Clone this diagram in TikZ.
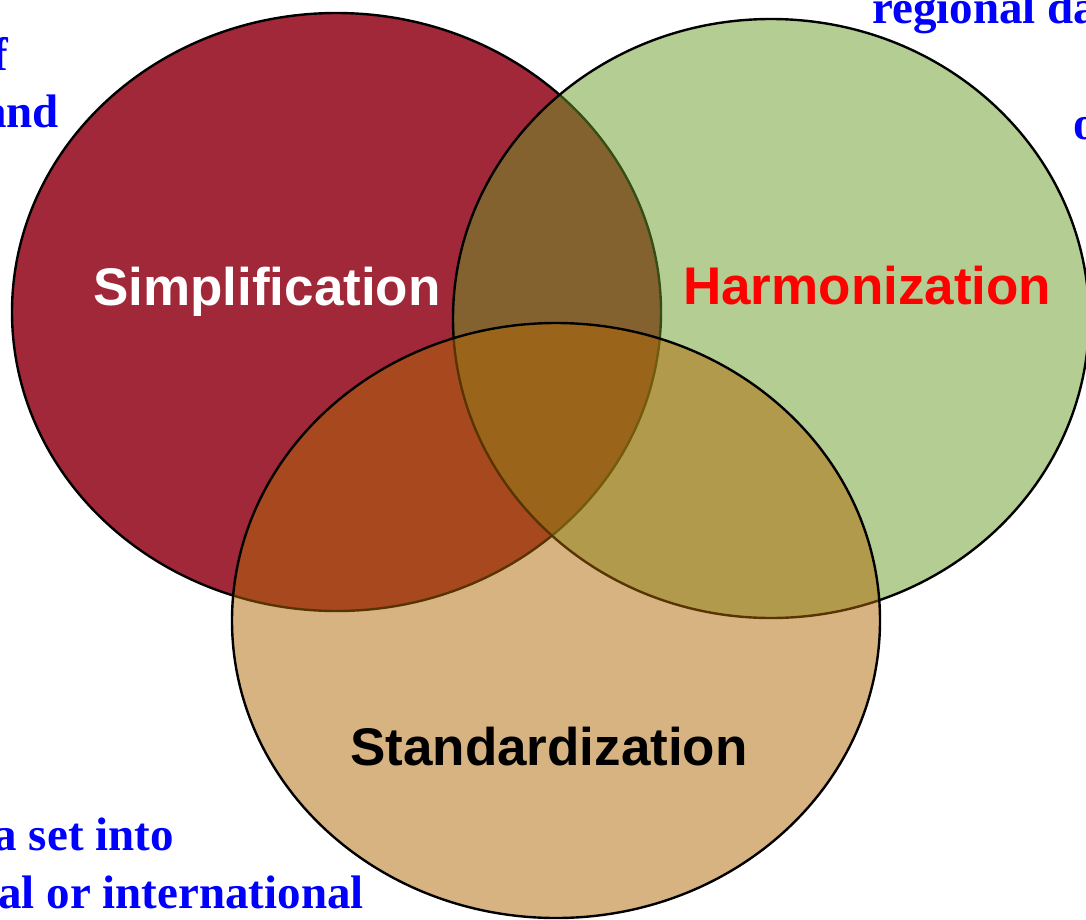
\documentclass[tikz,border=0pt]{standalone}
\usepackage{fontspec}
\setmainfont{Liberation Serif}
\newfontfamily\arialfont{Liberation Sans}
\definecolor{simpred}{RGB}{160,40,56}
\definecolor{harmgreen}{RGB}{105,157,41}
\definecolor{standtan}{RGB}{177,105,5}
\definecolor{noteblue}{RGB}{0,0,255}
\begin{document}
\begin{tikzpicture}[x=1pt,y=-1pt,
  setshape/.style={draw=black,line width=2.4pt},
  biglabel/.style={font=\arialfont\bfseries\fontsize{53}{60}\selectfont,inner sep=0pt,anchor=base west},
  note/.style={font=\bfseries\fontsize{47}{56}\selectfont,text=noteblue,inner sep=0pt}]
\useasboundingbox (0,0) rectangle (1086,919);
\fill[white] (0,0) rectangle (1086,919);
% notes (cropped at page edges)
\node[note,anchor=base east] (n1) at (8,70) {f};
\node[note,anchor=base east] (n2) at (59,127) {and};
\node[note,anchor=base west] (n3) at (872,23) {regional da};
\node[note,anchor=base west] (n4) at (1073,139) {o};
\node[note,anchor=base east] (n5) at (174,850) {a set into};
\node[note,anchor=base east] (n6) at (364,908) {al or international};
% sets
\fill[simpred] (336.5,312) ellipse [x radius=324.5pt, y radius=299pt];
\draw[setshape] (336.5,312) ellipse [x radius=324.5pt, y radius=299pt];
\fill[harmgreen,fill opacity=0.5] (771,318.5) ellipse [x radius=318pt, y radius=299.5pt];
\draw[setshape] (771,318.5) ellipse [x radius=318pt, y radius=299.5pt];
\fill[standtan,fill opacity=0.5] (556,620.5) ellipse [x radius=324pt, y radius=297.5pt];
\draw[setshape] (556,620.5) ellipse [x radius=324pt, y radius=297.5pt];
% labels
\node[biglabel,text=white] (simp) at (93,305) {Simplification};
\node[biglabel,text=red] (harm) at (683,304) {Harmonization};
\node[biglabel,text=black] (stand) at (350,765) {Standardization};
\end{tikzpicture}
\end{document}
